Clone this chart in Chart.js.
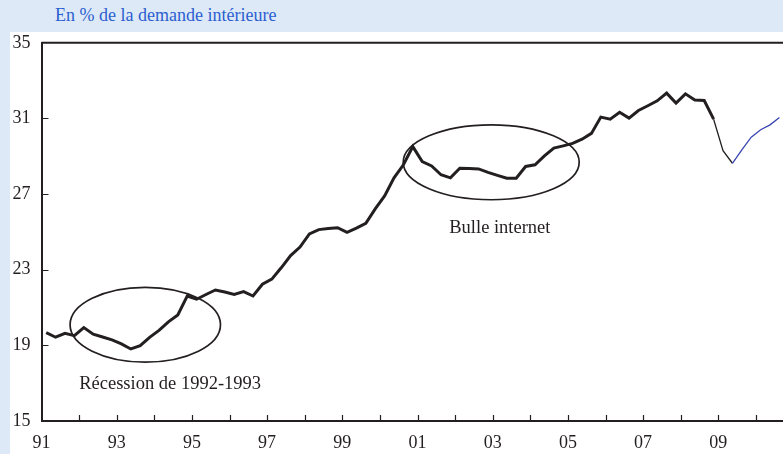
<!DOCTYPE html>
<html>
<head>
<meta charset="utf-8">
<script src="https://cdn.jsdelivr.net/npm/chart.js@4.4.1/dist/chart.umd.min.js"></script>
<style>
  body { margin: 0; background: #dde9f7; width: 783px; height: 454px; overflow: hidden; position: relative; }
  #title { position: absolute; left: 55px; top: 5px; font: 18px "Liberation Serif", serif; color: #2b5fd0; }
  #panel { position: absolute; left: 10px; top: 32px; width: 773px; height: 422px; background: #fff; overflow: hidden; }
  #chart { position: absolute; left: 0; top: -11px; }
</style>
</head>
<body>
<div id="title">En % de la demande intérieure</div>
<div id="panel"><canvas id="chart" width="773" height="433"></canvas></div>
<script>
// quarterly values, starting 1991 Q1
const startYear = 1991;
const ratio = [
    19.67, 19.43, 19.64, 19.51,
    19.94, 19.59, 19.44, 19.29,
    19.08, 18.81, 18.98, 19.42,
    19.79, 20.24, 20.61, 21.61,
    21.44, 21.69, 21.93, 21.82,
    21.69, 21.84, 21.61, 22.23,
    22.50, 23.10, 23.75, 24.20,
    24.89, 25.12, 25.18, 25.22,
    24.98, 25.20, 25.45, 26.22,
    26.90, 27.86, 28.55, 29.51,
    28.72, 28.49, 28.02, 27.86,
    28.37, 28.35, 28.33, 28.15,
    27.99, 27.84, 27.84, 28.46,
    28.55, 29.02, 29.43, 29.55,
    29.68, 29.90, 30.21, 31.07,
    30.96, 31.33, 31.02, 31.42,
    31.67, 31.93, 32.34, 31.81,
    32.30, 31.98, 31.95, 30.96,
    29.30, 28.63, 29.34, 30.01,
    30.40, 30.66, 31.05
];
const thickUntil = 71;     // last index of the bold line
const forecastFrom = 73;   // blue part starts here
const yearLabels = ['91', '93', '95', '97', '99', '01', '03', '05', '07', '09'];
const labelYears = [1991, 1993, 1995, 1997, 1999, 2001, 2003, 2005, 2007, 2009];
const yTicks = [15, 19, 23, 27, 31, 35];

const notes = [
    { text: 'Récession de 1992-1993', cx: 1993.76, cy: 20.09, rx: 2.0, ry: 1.98, tx: 1994.42, ty: 16.96 },
    { text: 'Bulle internet', cx: 2002.96, cy: 28.68, rx: 2.34, ry: 1.98, tx: 2003.19, ty: 25.21 }
];

const points = ratio.map((v, i) => ({ x: startYear + (i + 0.5) / 4, y: v }));

const serif = '"Liberation Serif", serif';

const decor = {
    id: 'decor',
    afterDatasetsDraw(chart) {
        const c = chart.ctx;
        const xs = chart.scales.x, ys = chart.scales.y;
        const a = chart.chartArea;
        c.save();
        c.strokeStyle = '#231f20';
        // top frame line
        c.lineWidth = 2;
        c.beginPath();
        c.moveTo(a.left, a.top);
        c.lineTo(a.right, a.top);
        c.stroke();
        // inner ticks
        c.lineWidth = 1.2;
        c.beginPath();
        for (let yr = startYear + 1; yr <= xs.max; yr++) {
            const px = Math.round(xs.getPixelForValue(yr)) + 0.5;
            c.moveTo(px, a.bottom);
            c.lineTo(px, a.bottom - 6);
        }
        yTicks.slice(1, -1).forEach(v => {
            const py = Math.round(ys.getPixelForValue(v)) + 0.5;
            c.moveTo(a.left, py);
            c.lineTo(a.left + 7, py);
        });
        c.stroke();
        // ellipses and notes
        c.lineWidth = 1.7;
        c.fillStyle = '#231f20';
        c.font = '18.5px ' + serif;
        c.textAlign = 'center';
        c.textBaseline = 'middle';
        notes.forEach(n => {
            const px = xs.getPixelForValue(n.cx), py = ys.getPixelForValue(n.cy);
            const rx = xs.getPixelForValue(n.cx + n.rx) - px;
            const ry = py - ys.getPixelForValue(n.cy + n.ry);
            c.beginPath();
            c.ellipse(px, py, rx, ry, 0, 0, Math.PI * 2);
            c.stroke();
            c.fillText(n.text, xs.getPixelForValue(n.tx), ys.getPixelForValue(n.ty));
        });
        c.restore();
    }
};

new Chart(document.getElementById('chart'), {
    type: 'line',
    data: {
        datasets: [{
            data: points,
            borderColor: '#231f20',
            borderWidth: 3,
            pointRadius: 0,
            tension: 0,
            segment: {
                borderWidth: ctx => ctx.p0DataIndex < thickUntil ? 3 : 1.3,
                borderColor: ctx => ctx.p0DataIndex < forecastFrom ? '#231f20' : '#3a46b0'
            }
        }]
    },
    options: {
        responsive: false,
        animation: false,
        layout: { padding: 0 },
        plugins: { legend: { display: false }, tooltip: { enabled: false } },
        scales: {
            x: {
                type: 'linear',
                min: 1991,
                max: 2010.72,
                afterBuildTicks: axis => {
                    axis.ticks = labelYears.map(v => ({ value: v }));
                },
                afterFit: axis => { axis.height = 33; },
                ticks: {
                    autoSkip: false,
                    maxRotation: 0,
                    padding: 11,
                    color: '#231f20',
                    font: { family: serif, size: 18 },
                    callback: v => yearLabels[labelYears.indexOf(v)]
                },
                grid: { display: false, drawTicks: false },
                border: { display: true, color: '#231f20', width: 2 }
            },
            y: {
                min: 15,
                max: 35,
                afterBuildTicks: axis => {
                    axis.ticks = yTicks.map(v => ({ value: v }));
                },
                afterFit: axis => { axis.width = 31.5; },
                ticks: {
                    padding: 11,
                    color: '#231f20',
                    font: { family: serif, size: 18 }
                },
                grid: { display: false, drawTicks: false },
                border: { display: true, color: '#231f20', width: 2 }
            }
        }
    },
    plugins: [decor]
});
</script>
</body>
</html>
